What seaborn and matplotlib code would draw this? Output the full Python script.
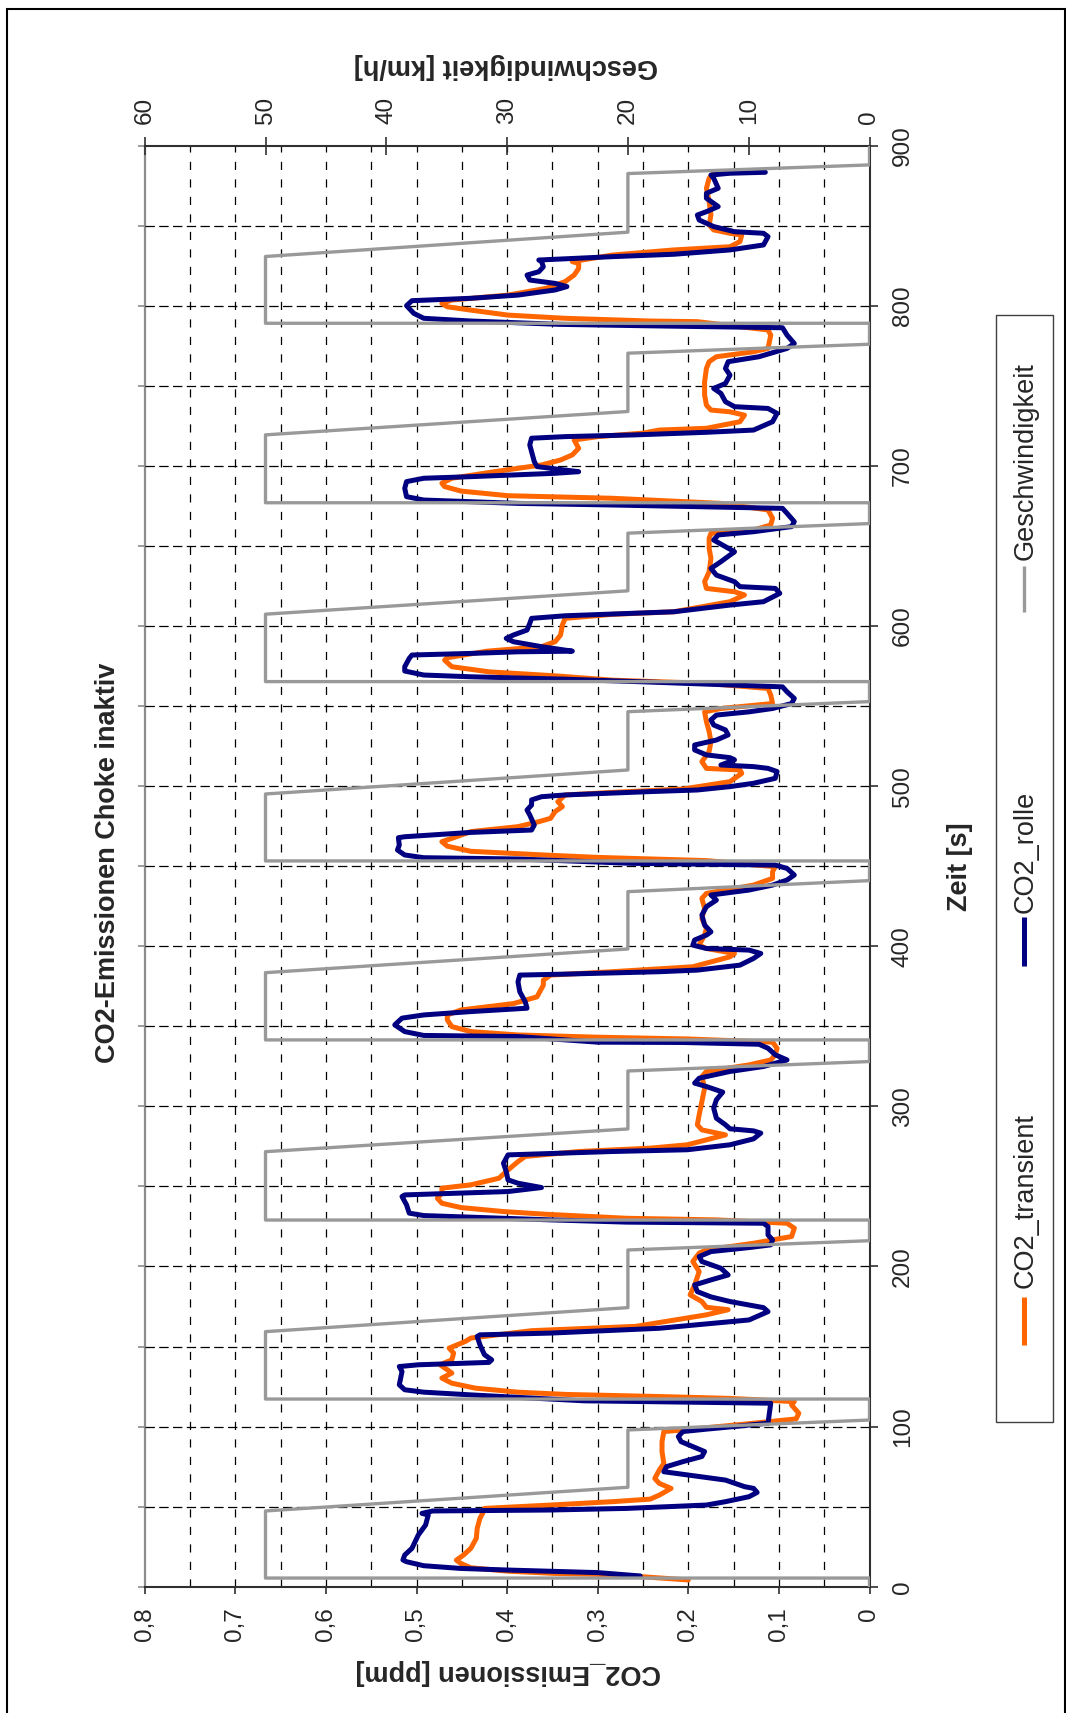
import matplotlib
matplotlib.use("Agg")
import matplotlib.pyplot as plt
import pandas as pd
import seaborn as sns
from matplotlib.patches import Rectangle
from matplotlib.lines import Line2D
from matplotlib.ticker import FixedLocator

# ---------------- data ----------------
series_names = ["CO2_transient", "CO2_rolle", "Geschwindigkeit"]
series_colors = ["#FF6600", "#000080", "#999999"]

transient_t = [4.2, 6.2, 7.7, 8.3, 9.7, 11.8, 14.5, 16.6, 19.8, 24.0, 30.2, 36.4, 42.7, 45.8, 48.9, 51.0, 53.1,
               54.7, 57.2, 61.4, 64.5, 67.6, 72.9, 77.0, 84.4, 90.6, 96.9, 97.9, 102.1, 104.8, 108.3, 113.5,
               115.6, 117.6, 118.7, 120.1, 121.5, 124.0, 127.1, 130.3, 133.4, 135.5, 138.6, 141.7, 145.9,
               149.0, 153.2, 155.3, 159.9, 162.6, 169.8, 173.0, 174.5, 178.1, 182.3, 188.5, 196.8, 203.1,
               208.3, 210.4, 214.5, 218.7, 223.9, 227.0, 229.1, 230.1, 232.6, 234.3, 236.8, 239.5, 242.6,
               245.8, 248.9, 251.0, 255.1, 259.3, 265.5, 268.7, 271.8, 273.9, 276.0, 282.2, 285.3, 288.5,
               294.7, 303.0, 311.4, 318.6, 321.8, 325.9, 329.0, 332.2, 336.3, 340.1, 342.1, 343.2, 344.6,
               346.7, 349.8, 354.0, 357.1, 360.2, 364.2, 368.4, 375.7, 378.8, 382.0, 384.1, 387.2, 393.4,
               395.5, 398.6, 400.7, 407.0, 411.1, 417.4, 423.6, 429.9, 433.0, 438.2, 442.4, 446.6, 449.7,
               453.5, 455.5, 456.8, 459.3, 462.5, 465.3, 467.4, 471.6, 474.7, 477.8, 479.9, 484.1, 487.2,
               490.3, 494.5, 496.1, 498.2, 502.8, 508.0, 510.1, 511.1, 515.3, 521.6, 527.8, 534.1, 540.3,
               546.4, 548.5, 551.6, 556.9, 561.0, 564.2, 566.2, 568.9, 571.4, 574.6, 578.7, 580.2, 584.3,
               587.1, 590.2, 594.4, 600.6, 604.8, 607.3, 608.9, 615.2, 619.4, 621.4, 623.5, 627.7, 633.9,
               642.3, 648.5, 654.8, 657.9, 660.0, 663.1, 667.3, 672.5, 676.6, 679.8, 681.4, 684.3, 687.1,
               689.2, 692.3, 696.4, 700.6, 703.7, 706.9, 711.0, 716.2, 718.3, 720.5, 722.4, 723.5, 727.6,
               731.7, 733.8, 734.9, 738.0, 744.2, 752.6, 760.9, 765.1, 768.2, 771.3, 773.4, 781.7, 784.9,
               790.1, 790.5, 792.2, 794.2, 797.3, 799.4, 801.5, 803.6, 806.7, 810.9, 815.1, 819.2, 823.4,
               826.5, 827.6, 831.7, 834.9, 836.9, 840.1, 844.2, 845.3, 847.4, 850.5, 856.7, 865.1, 873.4,
               879.7, 882.8, 883.8]
transient_co2 = [0.200, 0.250, 0.300, 0.347, 0.399, 0.440, 0.451, 0.456, 0.448, 0.440, 0.434, 0.433, 0.430,
                 0.427, 0.425, 0.352, 0.284, 0.242, 0.232, 0.219, 0.232, 0.237, 0.232, 0.227, 0.229, 0.229,
                 0.227, 0.206, 0.128, 0.081, 0.078, 0.086, 0.083, 0.154, 0.227, 0.336, 0.388, 0.435, 0.461,
                 0.472, 0.461, 0.466, 0.474, 0.461, 0.459, 0.464, 0.446, 0.440, 0.373, 0.258, 0.180, 0.156,
                 0.180, 0.185, 0.198, 0.193, 0.188, 0.195, 0.188, 0.180, 0.128, 0.086, 0.083, 0.091, 0.169,
                 0.268, 0.357, 0.404, 0.451, 0.472, 0.477, 0.472, 0.472, 0.440, 0.409, 0.401, 0.388, 0.380,
                 0.321, 0.242, 0.201, 0.159, 0.185, 0.190, 0.188, 0.185, 0.182, 0.185, 0.180, 0.133, 0.109,
                 0.104, 0.102, 0.107, 0.201, 0.300, 0.388, 0.440, 0.461, 0.466, 0.466, 0.451, 0.393, 0.367,
                 0.360, 0.360, 0.352, 0.284, 0.195, 0.154, 0.149, 0.180, 0.188, 0.182, 0.180, 0.185, 0.182,
                 0.185, 0.180, 0.128, 0.107, 0.107, 0.104, 0.180, 0.300, 0.352, 0.440, 0.466, 0.472, 0.461,
                 0.440, 0.388, 0.365, 0.352, 0.347, 0.339, 0.344, 0.336, 0.284, 0.206, 0.154, 0.141, 0.143,
                 0.180, 0.185, 0.177, 0.175, 0.177, 0.180, 0.182, 0.164, 0.107, 0.109, 0.112, 0.180, 0.284,
                 0.347, 0.420, 0.461, 0.469, 0.466, 0.422, 0.362, 0.347, 0.341, 0.339, 0.336, 0.284, 0.216,
                 0.154, 0.138, 0.149, 0.180, 0.182, 0.177, 0.175, 0.177, 0.177, 0.175, 0.128, 0.109, 0.107,
                 0.112, 0.164, 0.284, 0.399, 0.451, 0.469, 0.472, 0.461, 0.414, 0.362, 0.341, 0.328, 0.321,
                 0.326, 0.300, 0.250, 0.232, 0.180, 0.143, 0.138, 0.154, 0.175, 0.180, 0.182, 0.182, 0.180,
                 0.177, 0.169, 0.128, 0.112, 0.109, 0.112, 0.190, 0.242, 0.336, 0.399, 0.440, 0.466, 0.472,
                 0.461, 0.399, 0.357, 0.336, 0.326, 0.321, 0.321, 0.328, 0.284, 0.216, 0.154, 0.143, 0.141,
                 0.154, 0.172, 0.177, 0.175, 0.177, 0.180, 0.177, 0.172, 0.128]

rolle_t = [6.7, 8.8, 10.4, 11.4, 13.1, 15.6, 16.7, 19.8, 24.0, 32.3, 38.5, 44.8, 45.8, 47.3, 47.9, 48.9, 51.0,
           53.1, 56.2, 58.9, 61.4, 62.5, 66.6, 69.8, 71.8, 75.0, 78.1, 81.3, 84.4, 87.5, 90.6, 93.8, 96.9,
           98.4, 100.0, 102.1, 114.6, 116.1, 119.8, 121.5, 123.0, 126.1, 134.4, 137.5, 138.6, 140.1, 141.7,
           144.9, 151.1, 156.3, 157.3, 158.4, 161.4, 166.6, 171.8, 174.3, 178.1, 181.0, 184.3, 188.5, 191.6,
           194.7, 198.9, 203.1, 206.2, 209.3, 211.8, 213.5, 216.6, 219.7, 224.9, 227.0, 227.7, 229.1, 231.8,
           233.3, 238.5, 243.7, 244.7, 246.8, 249.3, 252.0, 254.1, 259.3, 264.5, 269.7, 271.8, 272.9, 276.0,
           279.7, 283.3, 284.7, 286.0, 288.5, 292.6, 298.9, 304.1, 308.9, 312.4, 314.5, 317.6, 321.8, 324.9,
           329.0, 332.2, 336.3, 338.8, 339.9, 340.1, 343.6, 344.3, 346.7, 350.9, 355.1, 357.1, 359.2, 361.3,
           365.3, 371.6, 377.8, 382.0, 382.6, 384.1, 385.1, 388.2, 392.4, 395.5, 397.6, 398.6, 400.7, 403.9,
           407.0, 409.0, 413.2, 419.5, 424.7, 428.8, 432.0, 435.1, 438.2, 441.4, 444.5, 448.6, 450.7, 451.8,
           454.5, 455.3, 457.0, 460.1, 463.2, 467.8, 468.4, 471.1, 472.6, 475.7, 482.0, 485.1, 488.2, 491.4,
           493.4, 494.5, 496.6, 497.6, 499.7, 501.8, 504.9, 509.1, 511.1, 512.2, 513.2, 516.4, 517.8, 519.5,
           522.6, 525.7, 528.8, 532.0, 535.1, 538.2, 541.4, 544.4, 546.4, 548.5, 551.6, 554.8, 558.9, 562.0,
           564.8, 566.8, 568.3, 569.4, 571.9, 574.6, 579.8, 581.9, 582.9, 583.9, 584.3, 587.1, 590.2, 592.3,
           594.4, 597.5, 601.6, 604.8, 606.4, 608.9, 613.1, 615.2, 620.4, 623.5, 624.6, 627.7, 631.8, 636.0,
           640.2, 646.4, 649.6, 653.7, 656.9, 658.9, 662.1, 665.2, 670.4, 673.5, 675.6, 676.6, 678.7, 680.8,
           686.0, 690.2, 692.3, 693.3, 695.4, 696.4, 698.5, 699.6, 702.7, 708.9, 713.1, 717.3, 718.3, 719.4,
           721.0, 722.4, 727.6, 732.8, 735.9, 737.0, 740.1, 745.3, 748.4, 751.5, 756.7, 760.9, 765.1, 768.2,
           773.4, 776.5, 781.7, 786.3, 787.5, 788.4, 790.5, 792.2, 795.3, 800.1, 803.2, 804.7, 806.7, 809.9,
           812.0, 814.0, 816.1, 819.2, 821.3, 824.4, 827.6, 828.6, 830.7, 832.2, 834.9, 838.0, 843.2, 845.3,
           846.3, 849.5, 853.6, 856.7, 858.8, 862.0, 867.2, 870.3, 873.4, 879.7, 881.7, 882.8, 883.4]
rolle_co2 = [0.253, 0.300, 0.399, 0.451, 0.492, 0.511, 0.515, 0.513, 0.505, 0.498, 0.490, 0.487, 0.494, 0.482,
             0.352, 0.268, 0.180, 0.159, 0.133, 0.124, 0.128, 0.138, 0.159, 0.201, 0.227, 0.224, 0.206, 0.185,
             0.182, 0.195, 0.208, 0.211, 0.206, 0.180, 0.150, 0.112, 0.109, 0.315, 0.440, 0.492, 0.513, 0.519,
             0.516, 0.519, 0.498, 0.420, 0.417, 0.425, 0.430, 0.433, 0.430, 0.352, 0.232, 0.133, 0.112, 0.117,
             0.154, 0.175, 0.190, 0.193, 0.175, 0.156, 0.164, 0.185, 0.188, 0.175, 0.133, 0.109, 0.107, 0.112,
             0.112, 0.117, 0.268, 0.352, 0.492, 0.508, 0.511, 0.516, 0.513, 0.399, 0.362, 0.388, 0.399, 0.401,
             0.404, 0.399, 0.284, 0.201, 0.154, 0.128, 0.120, 0.128, 0.154, 0.159, 0.169, 0.172, 0.169, 0.162,
             0.180, 0.193, 0.188, 0.154, 0.117, 0.091, 0.104, 0.112, 0.122, 0.206, 0.300, 0.388, 0.492, 0.513,
             0.524, 0.516, 0.492, 0.440, 0.378, 0.380, 0.386, 0.388, 0.386, 0.336, 0.232, 0.190, 0.143, 0.128,
             0.120, 0.133, 0.180, 0.195, 0.193, 0.180, 0.175, 0.182, 0.185, 0.180, 0.169, 0.175, 0.133, 0.107,
             0.091, 0.083, 0.091, 0.104, 0.263, 0.388, 0.492, 0.513, 0.521, 0.519, 0.520, 0.513, 0.440, 0.373,
             0.370, 0.375, 0.378, 0.373, 0.373, 0.362, 0.336, 0.242, 0.190, 0.154, 0.128, 0.104, 0.102, 0.112,
             0.128, 0.164, 0.149, 0.154, 0.180, 0.193, 0.193, 0.169, 0.156, 0.159, 0.172, 0.175, 0.169, 0.133,
             0.107, 0.086, 0.083, 0.091, 0.096, 0.232, 0.336, 0.440, 0.492, 0.513, 0.513, 0.508, 0.505, 0.440,
             0.388, 0.328, 0.362, 0.393, 0.401, 0.393, 0.378, 0.375, 0.373, 0.336, 0.216, 0.154, 0.117, 0.099,
             0.104, 0.143, 0.149, 0.169, 0.175, 0.164, 0.149, 0.159, 0.172, 0.167, 0.128, 0.086, 0.083, 0.091,
             0.096, 0.284, 0.388, 0.492, 0.511, 0.513, 0.511, 0.492, 0.440, 0.347, 0.321, 0.352, 0.367, 0.370,
             0.373, 0.375, 0.373, 0.336, 0.258, 0.180, 0.128, 0.107, 0.102, 0.112, 0.149, 0.159, 0.164, 0.172,
             0.159, 0.154, 0.159, 0.156, 0.122, 0.091, 0.083, 0.091, 0.096, 0.242, 0.341, 0.440, 0.492, 0.503,
             0.511, 0.505, 0.440, 0.388, 0.347, 0.334, 0.347, 0.375, 0.378, 0.365, 0.360, 0.362, 0.365, 0.284,
             0.216, 0.154, 0.117, 0.112, 0.117, 0.149, 0.172, 0.188, 0.190, 0.180, 0.167, 0.180, 0.180, 0.167,
             0.172, 0.175, 0.154, 0.115]

speed_t = [0.0, 5.4, 5.4, 47.3, 62.1, 97.9, 104.1, 117.2, 117.2, 159.3, 174.3, 210.3, 216.1, 229.0, 229.0,
           271.7, 285.9, 322.1, 328.0, 341.5, 341.5, 383.5, 398.3, 434.1, 441.0, 453.3, 453.3, 495.1, 510.1,
           546.5, 552.8, 565.3, 565.3, 607.4, 622.0, 658.0, 664.0, 677.0, 677.0, 719.4, 734.0, 770.4, 776.0,
           789.1, 789.1, 830.8, 846.0, 882.6, 888.0, 900.0]
speed_kmh = [0, 0, 50, 50, 20, 20, 0, 0, 50, 50, 20, 20, 0, 0, 50, 50, 20, 20, 0, 0, 50, 50, 20, 20, 0,
             0, 50, 50, 20, 20, 0, 0, 50, 50, 20, 20, 0, 0, 50, 50, 20, 20, 0, 0, 50, 50, 20, 20, 0, 0]

co2_ticks = [0.0, 0.1, 0.2, 0.3, 0.4, 0.5, 0.6, 0.7, 0.8]
co2_ticklabels = ["0", "0,1", "0,2", "0,3", "0,4", "0,5", "0,6", "0,7", "0,8"]
co2_minor = [0.05, 0.15, 0.25, 0.35, 0.45, 0.55, 0.65, 0.75]
time_ticks = [0, 100, 200, 300, 400, 500, 600, 700, 800, 900]
time_ticklabels = ["0", "100", "200", "300", "400", "500", "600", "700", "800", "900"]
time_minor = [50, 150, 250, 350, 450, 550, 650, 750, 850]
time_left_ticks = [0, 50, 100, 150, 200, 250, 300, 350, 400, 450, 500, 550, 600, 650, 700, 750, 800, 850, 900]
speed_ticks = [0, 10, 20, 30, 40, 50, 60]
speed_ticklabels = ["0", "10", "20", "30", "40", "50", "60"]

# ---------------- style ----------------
sns.set_style("white")
plt.rcParams['font.family'] = ['Liberation Sans', 'DejaVu Sans']

W, H = 1066, 1713
fig = plt.figure(figsize=(W / 100, H / 100), dpi=100)
fig.patch.set_facecolor("white")


def fx(px):
    return px / W


def fy(py):
    return 1 - py / H


L, R, T, B = 144.7, 869.5, 145.7, 1586.7
ax = fig.add_axes([fx(L), fy(B), (R - L) / W, (B - T) / H])
ax.set_facecolor("white")

df_tr = pd.DataFrame({"Zeit": transient_t, "CO2": transient_co2})
df_ro = pd.DataFrame({"Zeit": rolle_t, "CO2": rolle_co2})
df_sp = pd.DataFrame({"Zeit": speed_t, "v": speed_kmh})

sns.lineplot(data=df_tr, x="CO2", y="Zeit", orient="y", sort=False, estimator=None,
             color=series_colors[0], lw=3.6, ax=ax, legend=False, zorder=3)
sns.lineplot(data=df_ro, x="CO2", y="Zeit", orient="y", sort=False, estimator=None,
             color=series_colors[1], lw=3.6, ax=ax, legend=False, zorder=4)

ax.set_xlim(0.8, 0)
ax.set_ylim(0, 900)

dark = "#303030"
ax.set_xticks(co2_ticks, labels=co2_ticklabels)
ax.xaxis.set_minor_locator(FixedLocator(co2_minor))
ax.yaxis.tick_right()
ax.set_yticks(time_ticks, labels=time_ticklabels)
ax.yaxis.set_minor_locator(FixedLocator(time_minor))

# dashed grid (major + minor)
ax.grid(False)
ax.grid(which="both", axis="x", color="black", lw=0.9, ls=(0, (6.5, 7.5)))
ax.grid(which="both", axis="y", color="black", lw=0.9, ls=(0, (7.5, 3.5)))
ax.set_axisbelow(True)
for tk in ax.xaxis.get_major_ticks():
    if tk.get_loc() in (0.0, 0.8):
        tk.gridline.set_visible(False)
for tk in ax.yaxis.get_major_ticks():
    if tk.get_loc() in (0, 900):
        tk.gridline.set_visible(False)

ax.tick_params(axis="x", which="major", direction="out", length=5, width=1.2, color=dark,
               labelsize=17.5, labelrotation=90, pad=10, bottom=True, top=False)
ax.tick_params(axis="x", which="minor", length=0)
ax.tick_params(axis="y", which="major", direction="out", length=6, width=1.2, color=dark,
               labelsize=17.5, labelrotation=90, pad=10, left=False, right=True,
               labelleft=False, labelright=True)
ax.tick_params(axis="y", which="minor", length=0)
for lbl in ax.get_yticklabels():
    lbl.set_va("center")

for s in ["bottom", "right"]:
    ax.spines[s].set_color(dark)
    ax.spines[s].set_linewidth(1.5)
ax.spines["top"].set_visible(False)
ax.spines["left"].set_visible(False)

# left (gray) axis with 50 s ticks
sec = ax.secondary_yaxis("left")
sec.set_yticks(time_left_ticks)
sec.tick_params(direction="out", length=5, width=1.2, color="#8c8c8c", labelleft=False)
sec.spines["left"].set_color("#8c8c8c")
sec.spines["left"].set_linewidth(1.6)

ax.set_xlabel("CO2_Emissionen [ppm]", fontsize=19.5, fontweight="bold", rotation=180)
ax.xaxis.set_label_coords((508 - L) / (R - L), (B - 1672) / (B - T))
ax.xaxis.label.set_ha("center")
ax.xaxis.label.set_va("center")
ax.set_ylabel("Zeit [s]", fontsize=19.5, fontweight="bold", rotation=90)
ax.yaxis.set_label_coords((960 - L) / (R - L), (B - 867) / (B - T))
ax.yaxis.label.set_ha("center")
ax.yaxis.label.set_va("center")

# speed on secondary x axis (top)
ax2 = ax.twiny()
sns.lineplot(data=df_sp, x="v", y="Zeit", orient="y", sort=False, estimator=None,
             color=series_colors[2], lw=2.4, ax=ax2, legend=False, zorder=5)
ax2.set_xlim(60, 0)
ax2.set_ylim(0, 900)
ax2.set_xticks(speed_ticks, labels=speed_ticklabels)
ax2.tick_params(axis="x", which="major", direction="inout", length=13, width=1.2, color=dark,
                labelsize=17.5, labelrotation=90, pad=9, top=True, bottom=False)
ax2.grid(False)
for s in ["bottom", "left", "right"]:
    ax2.spines[s].set_visible(False)
ax2.spines["top"].set_color(dark)
ax2.spines["top"].set_linewidth(1.5)
ax2.set_xlabel("Geschwindigkeit [km/h]", fontsize=19.5, fontweight="bold", rotation=180)
ax2.xaxis.set_label_coords((506 - L) / (R - L), (B - 66) / (B - T))
ax2.xaxis.label.set_ha("center")
ax2.xaxis.label.set_va("center")

# title (rotated like the whole chart)
fig.suptitle("CO2-Emissionen Choke inaktiv", x=fx(108), y=fy(863), rotation=90,
             ha="center", va="center", fontsize=19.5, fontweight="bold")

# legend (drawn rotated, like the rest of the chart)
fig.add_artist(Rectangle((fx(995.7), fy(1421.7)), (1053.3 - 995.7) / W, (1421.7 - 314.5) / H,
                         transform=fig.transFigure, fill=False, ec="#404040", lw=1.0))
leg_pos = [(1345, 1297, 1288), (966, 917, 913), (612, 566, 560)]
leg_lw = [3.6, 3.6, 2.4]
for name, col, (y0, y1, yt), lw in zip(series_names, series_colors, leg_pos, leg_lw):
    fig.add_artist(Line2D([fx(1024.3), fx(1024.3)], [fy(y0), fy(y1)], transform=fig.transFigure,
                          color=col, lw=lw, solid_capstyle="butt"))
    fig.text(fx(1026), fy(yt), name, rotation=90, rotation_mode="anchor", ha="left", va="center",
             fontsize=19.5)

# outer chart border
fig.add_artist(Rectangle((fx(7), -0.01), (1065 - 7) / W, fy(9) + 0.01, transform=fig.transFigure,
                         fill=False, ec="black", lw=1.5))

fig.savefig("out.png", dpi=100, facecolor="white")
